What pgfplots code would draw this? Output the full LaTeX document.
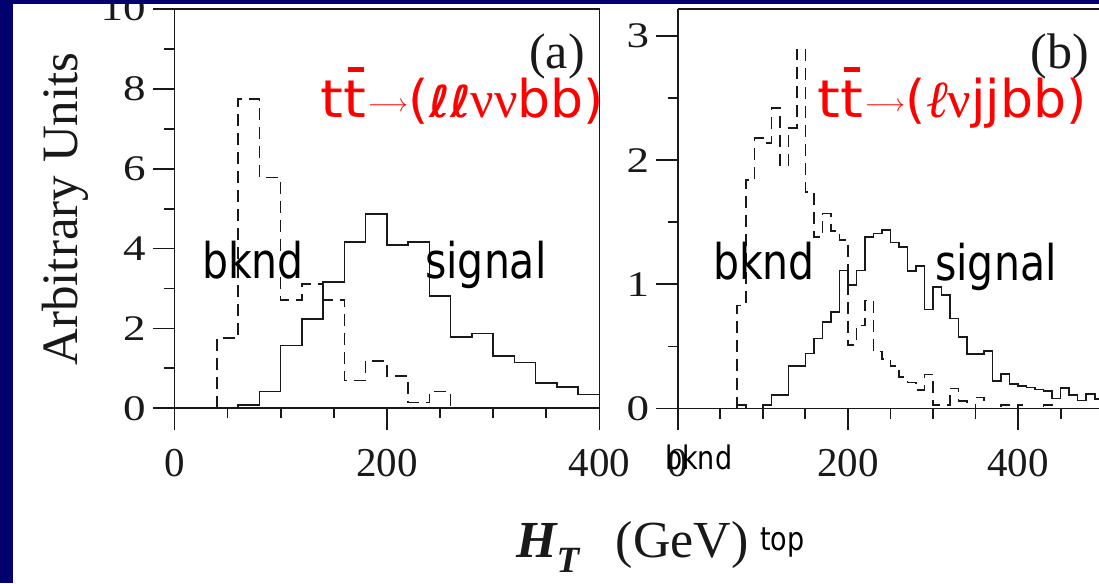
\documentclass[border=0pt]{standalone}
\usepackage{fontspec}
\setmainfont{Liberation Serif}
\newfontfamily\comic{DejaVu Sans}
\newfontfamily\serifg{Liberation Serif}
\usepackage{graphicx}
\usepackage{pgfplots}
\usepackage{pgfplotstable}
\pgfplotsset{compat=1.18}
\definecolor{slideblue}{RGB}{2,0,110}
\definecolor{ink}{RGB}{25,25,25}

\pgfplotstableread{
x y
40 0
40 1.76
60 7.75
80 5.78
100 2.72
120 3.12
140 2.72
160 0.70
180 1.19
200 0.81
220 0.15
240 0.42
260 0
}\bkgA
\pgfplotstableread{
x y
60 0
60 0.08
80 0.42
100 1.57
120 2.24
140 3.17
160 4.17
180 4.86
200 4.09
220 4.17
240 2.81
260 1.78
280 1.87
300 1.31
320 1.15
340 0.63
360 0.53
380 0.35
400 0
}\sigA
\pgfplotstableread{
x y
70 0
70 0.83
80 1.84
90 2.18
100 2.14
110 2.42
120 1.96
130 2.26
140 2.89
150 1.745
160 1.38
170 1.57
180 1.43
190 1.357
200 0.51
210 0.67
220 0.87
230 0.46
240 0.40
250 0.34
260 0.255
270 0.21
280 0.15
290 0.275
300 0.03
310 0.03
320 0.16
330 0.06
340 0
350 0.09
360 0
380 0.03
390 0
400 0.03
410 0
430 0.03
440 0
}\bkgB
\pgfplotstableread{
x y
70 0.03
80 0
100 0.03
110 0.107
130 0.34
150 0.443
160 0.564
170 0.698
180 0.779
190 1.11
200 0.995
210 1.11
220 1.38
230 1.41
240 1.437
250 1.338
260 1.30
270 1.109
280 1.147
290 0.798
300 0.98
310 0.913
320 0.725
330 0.577
340 0.438
360 0.465
370 0.22
380 0.276
390 0.196
400 0.18
410 0.169
420 0.153
430 0.142
440 0.08
450 0.165
460 0.11
470 0.065
480 0.115
490 0.075
500 0.075
}\sigB

\pgfplotsset{
  panel/.style={
    scale only axis, height=420.5pt, anchor=south west,
    axis x line=middle, axis y line=left,
    hide obscured x ticks=false, hide obscured y ticks=false,
    axis line style={-, line width=1.8pt, draw=ink},
    every tick/.style={line width=1.8pt, draw=ink},
    tick align=outside,
    major tick length=21.5pt, minor tick length=10pt,
    xtick={0,200,400},
    clip=false,
    /pgf/number format/assume math mode=true,
    xticklabel={\pgfmathprintnumber{\tick}},
    yticklabel={\scalebox{1.25}[1]{\pgfmathprintnumber{\tick}}},
    xticklabel style={font=\fontsize{41}{41}\selectfont, inner sep=0pt, anchor=north, text=ink, yshift=-19pt},
    yticklabel style={font=\fontsize{36}{36}\selectfont, inner sep=0pt, anchor=east, text=ink, xshift=-7pt},
  },
  sig/.style={const plot, line width=1.6pt, draw=ink, no markers},
  bkg/.style={const plot, line width=1.6pt, draw=ink, no markers, dash pattern=on 12pt off 7pt},
}
\newcommand{\annot}[1]{\scalebox{1}[1.2]{#1}}

\begin{document}
\begin{tikzpicture}[x=1pt,y=1pt]
\useasboundingbox (0,0) rectangle (1099,583);
\clip (0,0) rectangle (1099,583);
\fill[white] (0,0) rectangle (1099,583);

\begin{axis}[panel, at={(174.4pt,153.5pt)}, width=425pt,
  xmin=0, xmax=400, ymin=-0.53, ymax=10,
  ytick={0,2,4,6,8,10}, minor ytick={1,3,5,7,9},
  minor xtick={50,100,150,250,300,350}]
  \addplot[bkg] table[x=x,y=y] {\bkgA};
  \addplot[sig] table[x=x,y=y] {\sigA};
  \draw[line width=1.8pt, draw=ink] (rel axis cs:0,1) -- (rel axis cs:1,1) -- (rel axis cs:1,0);
\end{axis}

\begin{axis}[panel, at={(677.7pt,153.5pt)}, width=425.5pt,
  xmin=0, xmax=500, ymin=-0.169, ymax=3.217,
  ytick={0,1,2,3}, minor ytick={0.5,1.5,2.5},
  minor xtick={50,100,150,250,300,350,450}]
  \addplot[bkg] table[x=x,y=y] {\bkgB};
  \addplot[sig] table[x=x,y=y] {\sigB};
  \draw[line width=1.8pt, draw=ink] (rel axis cs:0,1) -- (rel axis cs:1,1) -- (rel axis cs:1,0);
\end{axis}

% axis titles
\node[anchor=base, rotate=90, inner sep=0pt, font=\fontsize{51}{51}\selectfont, text=ink] at (77.3,374) {Arbitrary Units};
\node[anchor=base west, inner sep=0pt, text=ink] at (516,26) {\fontsize{52}{52}\selectfont\bfseries\itshape H\raisebox{-16pt}{\fontsize{37}{37}\selectfont T}};
\node[anchor=base west, inner sep=0pt, text=ink, font=\fontsize{52}{52}\selectfont] at (615.5,26) {(GeV)};
\node[anchor=base west, inner sep=0pt, font=\comic\fontsize{27}{27}\selectfont] at (760,33) {\annot{top}};
\node[anchor=base west, inner sep=0pt, font=\comic\fontsize{27}{27}\selectfont] at (665,113) {\annot{bknd}};

% panel labels
\node[anchor=base, inner sep=0pt, text=ink, font=\fontsize{50}{50}\selectfont] at (557,514) {(a)};
\node[anchor=base, inner sep=0pt, text=ink, font=\fontsize{50}{50}\selectfont] at (1059.5,514) {(b)};

% annotations
\node[anchor=base west, inner sep=0pt, font=\comic\fontsize{41}{41}\selectfont] at (202,304) {\annot{bknd}};
\node[anchor=base west, inner sep=0pt, font=\comic\fontsize{41}{41}\selectfont] at (425,304) {\annot{signal}};
\node[anchor=base west, inner sep=0pt, font=\comic\fontsize{41}{41}\selectfont] at (713,303) {\annot{bknd}};
\node[anchor=base west, inner sep=0pt, font=\comic\fontsize{41}{41}\selectfont] at (935,302) {\annot{signal}};

% red process labels
\node[anchor=base west, inner sep=0pt, text=red] at (320,465) {\comic\fontsize{52}{52}\selectfont\scalebox{1.12}[1]{tt}\kern2pt\raisebox{6pt}{\fontsize{30}{30}\selectfont$\longrightarrow$}\kern1pt({\fontsize{44}{44}\selectfont\bfseries\itshape ℓℓ}\serifg νν\comic bb)};
\node[anchor=base west, inner sep=0pt, text=red] at (817,465) {\comic\fontsize{52}{52}\selectfont\scalebox{1.12}[1]{tt}\kern2pt\raisebox{6pt}{\fontsize{30}{30}\selectfont$\longrightarrow$}\kern1pt(\serifg\itshape ℓ\upshape ν\comic jjbb)};
\fill[red] (348,511) rectangle (364,516);
\fill[red] (844,511) rectangle (860,516);

% slide frame
\fill[slideblue] (0,0) rectangle (12.7,583);
\fill[slideblue] (0,578.5) rectangle (1099,583);
\end{tikzpicture}
\end{document}
